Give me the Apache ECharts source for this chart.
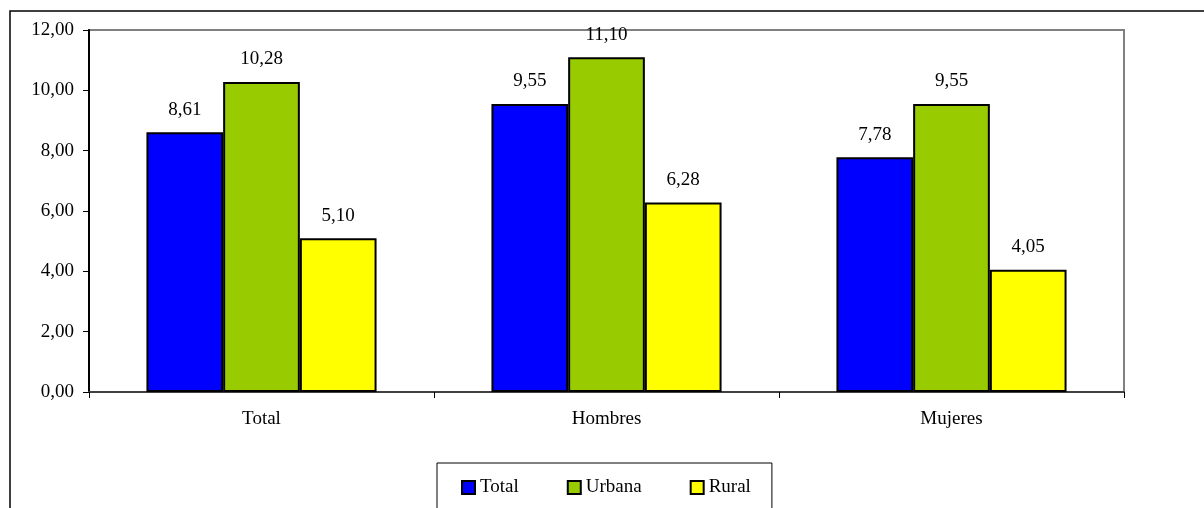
<!DOCTYPE html>
<html><head><meta charset="utf-8">
<script src="https://cdn.jsdelivr.net/npm/echarts@6/dist/echarts.min.js"></script>
<style>html,body{margin:0;padding:0;background:#fff}#c{width:1204px;height:508px}</style>
</head><body><div id="c"></div>
<script>
const categories = ['Total', 'Hombres', 'Mujeres'];
const seriesNames = ['Total', 'Urbana', 'Rural'];
const totalValues = [8.61, 9.55, 7.78];
const urbanaValues = [10.28, 11.10, 9.55];
const ruralValues = [5.10, 6.28, 4.05];
const colors = ['#0000FF', '#99CC00', '#FFFF00'];
const fmt = v => v.toFixed(2).replace('.', ',');
const font = "'Liberation Serif', 'DejaVu Serif', serif";
const FS = 19;
const chart = echarts.init(document.getElementById('c'));
const mk = (name, data, color) => ({
  name, type: 'bar', data, barGap: '0%', barCategoryGap: '33.3%',
  itemStyle: { color, borderColor: '#000', borderWidth: 2 },
  label: { show: true, position: 'top', distance: 13, color: '#000', fontFamily: font, fontSize: FS,
    formatter: p => fmt(p.value) }
});
chart.setOption({
  animation: false,
  textStyle: { fontFamily: font },
  graphic: [{ type: 'rect', shape: { x: 10, y: 11, width: 1300, height: 600 },
    style: { fill: 'none', stroke: '#000', lineWidth: 1.5 }, silent: true, z: -10 }],
  grid: { left: 89, top: 30, width: 1035, height: 362, show: true, borderColor: '#808080', borderWidth: 2, backgroundColor: '#fff' },
  legend: {
    left: 437, top: 463, data: seriesNames,
    itemWidth: 13, itemHeight: 13, itemGap: 48,
    padding: [15, 21, 40, 24],
    borderColor: '#000', borderWidth: 1,
    icon: 'rect',
    textStyle: { color: '#000', fontFamily: font, fontSize: FS }
  },
  xAxis: {
    type: 'category', data: categories,
    axisLine: { lineStyle: { color: '#404040', width: 2 } },
    axisTick: { show: true, inside: false, length: 6, lineStyle: { color: '#000', width: 1 } },
    axisLabel: { color: '#000', fontSize: FS, fontFamily: font, margin: 18 }
  },
  yAxis: {
    type: 'value', min: 0, max: 12, interval: 2,
    splitLine: { show: false },
    axisLine: { show: true, lineStyle: { color: '#000', width: 2 } },
    axisTick: { show: true, length: 6, lineStyle: { color: '#000', width: 1 } },
    axisLabel: { color: '#000', fontSize: FS, fontFamily: font, margin: 15, formatter: v => fmt(v) }
  },
  series: [mk(seriesNames[0], totalValues, colors[0]), mk(seriesNames[1], urbanaValues, colors[1]), mk(seriesNames[2], ruralValues, colors[2])]
});
</script></body></html>
